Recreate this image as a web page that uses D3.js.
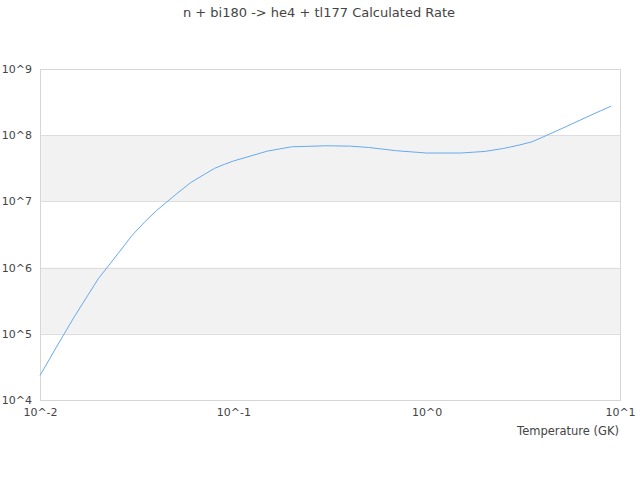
<!DOCTYPE html>
<html>
<head>
<meta charset="utf-8">
<script src="https://cdn.jsdelivr.net/npm/d3@7"></script>
<style>
  body { margin: 0; background: #fff; }
  text { font-family: "DejaVu Sans", sans-serif; fill: #444; }
</style>
</head>
<body>
<div id="chart"></div>
<script>
// temperatures (GK) and calculated rate
var temps = [0.01, 0.012, 0.015, 0.02, 0.025, 0.03, 0.035, 0.04, 0.05, 0.06, 0.07, 0.08, 0.09,
  0.1, 0.15, 0.2, 0.3, 0.4, 0.5, 0.7, 1.0, 1.5, 2, 2.5, 3, 3.5, 4, 5, 6, 7, 8, 9];
var rates = [2.34e4, 5.9e4, 1.78e5, 6.76e5, 1.55e6, 3.09e6, 4.97e6, 7.24e6, 1.25e7, 1.91e7, 2.51e7, 3.16e7, 3.63e7,
  4.07e7, 5.75e7, 6.68e7, 6.92e7, 6.84e7, 6.53e7, 5.82e7, 5.38e7, 5.38e7, 5.69e7, 6.31e7, 7.08e7, 7.94e7,
  9.40e7, 1.26e8, 1.61e8, 1.98e8, 2.36e8, 2.75e8];

var xTicks = [0.01, 0.1, 1, 10];
var xTickLabels = ["10^-2", "10^-1", "10^0", "10^1"];
var yTicks = [1e4, 1e5, 1e6, 1e7, 1e8, 1e9];
var yTickLabels = ["10^4", "10^5", "10^6", "10^7", "10^8", "10^9"];
// shaded bands between these decades
var bands = [[1e5, 1e6], [1e7, 1e8]];

var title = "n + bi180 -> he4 + tl177 Calculated Rate";
var xLabel = "Temperature (GK)";

var svgWidth = 640;
var svgHeight = 480;

var margin = { top: 69, right: 20, bottom: 80, left: 40 };

var chartWidth = svgWidth - margin.left - margin.right;
var chartHeight = svgHeight - margin.top - margin.bottom;

var svg = d3.select("#chart")
  .append("svg")
  .attr("width", svgWidth)
  .attr("height", svgHeight);

var chartGroup = svg.append("g")
  .attr("transform", `translate(${margin.left}, ${margin.top})`);

var xScale = d3.scaleLog().domain([0.01, 10]).range([0, chartWidth]);
var yScale = d3.scaleLog().domain([1e4, 1e9]).range([chartHeight, 0]);

// bands
chartGroup.selectAll(".band")
  .data(bands)
  .enter()
  .append("rect")
  .attr("x", 0)
  .attr("width", chartWidth)
  .attr("y", d => yScale(d[1]))
  .attr("height", d => yScale(d[0]) - yScale(d[1]))
  .attr("fill", "#f2f2f2");

// horizontal grid lines
chartGroup.selectAll(".grid")
  .data(yTicks)
  .enter()
  .append("line")
  .attr("x1", 0)
  .attr("x2", chartWidth)
  .attr("y1", d => Math.round(yScale(d)) + 0.5)
  .attr("y2", d => Math.round(yScale(d)) + 0.5)
  .attr("stroke", "#dddddd");

// plot border
chartGroup.append("rect")
  .attr("x", 0.5)
  .attr("y", 0.5)
  .attr("width", chartWidth)
  .attr("height", chartHeight)
  .attr("fill", "none")
  .attr("stroke", "#d6d6d6");

// y axis labels
var leftAxis = d3.axisLeft(yScale)
  .tickValues(yTicks)
  .tickFormat((d, i) => yTickLabels[i])
  .tickSize(0)
  .tickPadding(8);

var yAxis = chartGroup.append("g").call(leftAxis);
yAxis.select(".domain").remove();
yAxis.selectAll("text")
  .style("font-size", "11px")
  .style("font-family", "DejaVu Sans, sans-serif")
  .attr("fill", "#444");

// x axis labels
var bottomAxis = d3.axisBottom(xScale)
  .tickValues(xTicks)
  .tickFormat((d, i) => xTickLabels[i])
  .tickSize(0)
  .tickPadding(8);

var xAxis = chartGroup.append("g")
  .attr("transform", `translate(0, ${chartHeight})`)
  .call(bottomAxis);
xAxis.select(".domain").remove();
xAxis.selectAll("text")
  .style("font-size", "11px")
  .style("font-family", "DejaVu Sans, sans-serif")
  .attr("fill", "#444");

// rate line
var line = d3.line()
  .x((d, i) => xScale(temps[i]))
  .y(d => yScale(d));

chartGroup.append("path")
  .datum(rates)
  .attr("d", line)
  .attr("fill", "none")
  .attr("stroke", "#66aaee")
  .attr("stroke-width", 1);

// title
svg.append("text")
  .attr("x", 319)
  .attr("y", 17)
  .attr("text-anchor", "middle")
  .style("font-size", "13px")
  .text(title);

// x axis title
svg.append("text")
  .attr("x", margin.left + chartWidth - 1)
  .attr("y", 435)
  .attr("text-anchor", "end")
  .style("font-size", "11.5px")
  .text(xLabel);
</script>
</body>
</html>
